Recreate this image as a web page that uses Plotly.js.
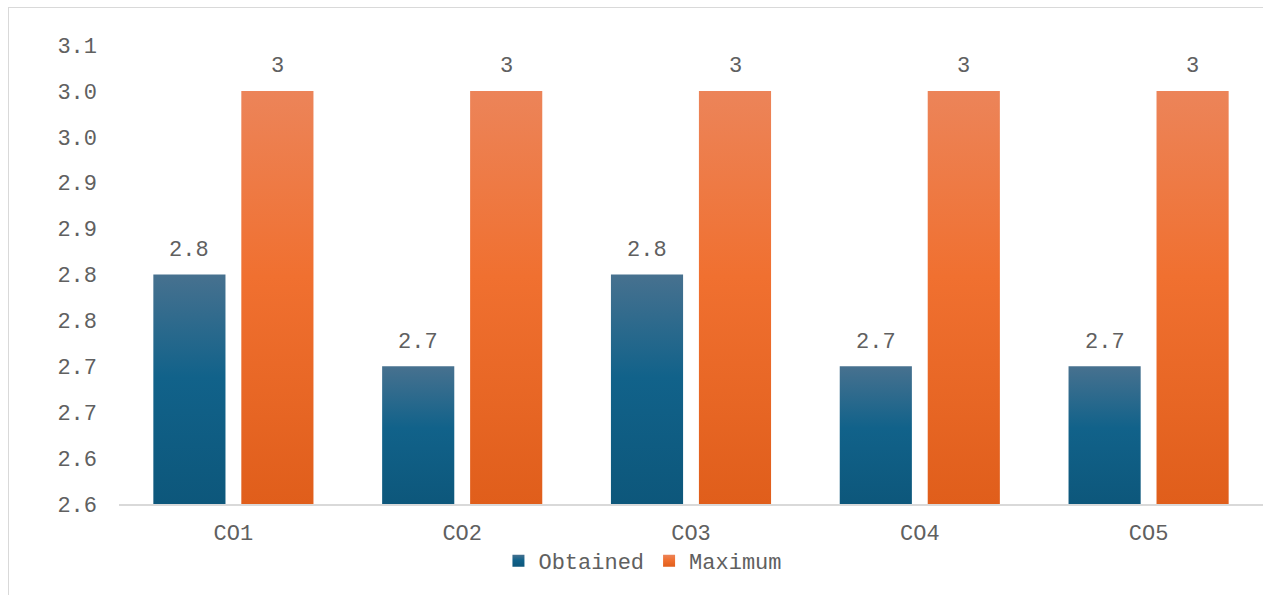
<!DOCTYPE html>
<html>
<head>
<meta charset="utf-8">
<script src="https://cdn.plot.ly/plotly-3.0.1.min.js"></script>
<style>
  html, body { margin: 0; padding: 0; background: #fff; overflow: hidden; }
  #chart { width: 1263px; height: 595px; }
  #frame { position: absolute; left: 8px; top: 7px; width: 1300px; height: 700px;
           border: 1px solid #d9d9d9; pointer-events: none; box-sizing: border-box; }
</style>
</head>
<body>
<div id="chart"></div>
<div id="frame"></div>
<script>
// ---- data ----
const categories = ["CO1", "CO2", "CO3", "CO4", "CO5"];
const obtained = [2.8, 2.7, 2.8, 2.7, 2.7];
const maximum = [3, 3, 3, 3, 3];
const yTickVals = [2.55, 2.60, 2.65, 2.70, 2.75, 2.80, 2.85, 2.90, 2.95, 3.00, 3.05];
const yTickText = ["2.6", "2.6", "2.7", "2.7", "2.8", "2.8", "2.9", "2.9", "3.0", "3.0", "3.1"];
const seriesNames = ["Obtained", "Maximum"];

const FONT = "Liberation Mono, Courier New, monospace";
const TXT = "#606060";

const traces = [
  { type: "bar", name: seriesNames[0], x: categories, y: obtained,
    marker: { color: "#175f86", line: { width: 0 } }, hoverinfo: "x+y" },
  { type: "bar", name: seriesNames[1], x: categories, y: maximum,
    marker: { color: "#ef6f2e", line: { width: 0 } }, hoverinfo: "x+y" }
];

const annotations = [];
categories.forEach((c, i) => {
  annotations.push({ x: c, y: obtained[i], xref: "x", yref: "y", text: String(obtained[i]),
    showarrow: false, xshift: -44, yshift: 24, yanchor: "middle",
    font: { family: FONT, size: 22, color: TXT } });
  annotations.push({ x: c, y: maximum[i], xref: "x", yref: "y", text: String(maximum[i]),
    showarrow: false, xshift: 44, yshift: 24, yanchor: "middle",
    font: { family: FONT, size: 22, color: TXT } });
});

const layout = {
  width: 1263, height: 595,
  margin: { l: 119, r: 0, t: 45, b: 91 },
  paper_bgcolor: "#ffffff", plot_bgcolor: "#ffffff",
  font: { family: FONT, size: 22, color: TXT },
  barmode: "group", bargap: 0.231, bargroupgap: 0.18,
  xaxis: { type: "category", showline: true, linecolor: "#d9d9d9", linewidth: 2,
    showgrid: false, zeroline: false, ticks: "", ticklabelstandoff: 8,
    tickfont: { family: FONT, size: 22, color: TXT } },
  yaxis: { range: [2.55, 3.05], tickvals: yTickVals, ticktext: yTickText,
    showgrid: false, zeroline: false, showline: false, ticks: "", ticklabelstandoff: 21,
    tickfont: { family: FONT, size: 22, color: TXT } },
  showlegend: true,
  legend: { orientation: "h", x: 0.458, xanchor: "center", y: -0.124, yanchor: "middle",
    font: { family: FONT, size: 22, color: TXT }, itemclick: false, itemdoubleclick: false },
  annotations: annotations
};

Plotly.newPlot("chart", traces, layout, { displayModeBar: false, staticPlot: true }).then(gd => {
  const svgNS = "http://www.w3.org/2000/svg";
  const svg = gd.querySelector("svg.main-svg");
  let defs = svg.querySelector("defs");
  if (!defs) { defs = document.createElementNS(svgNS, "defs"); svg.insertBefore(defs, svg.firstChild); }
  let n = 0;
  function grad(stops, y1, y2) {
    const id = "grad" + (n++);
    const g = document.createElementNS(svgNS, "linearGradient");
    g.setAttribute("id", id);
    g.setAttribute("gradientUnits", "userSpaceOnUse");
    g.setAttribute("x1", "0"); g.setAttribute("y1", String(y1));
    g.setAttribute("x2", "0"); g.setAttribute("y2", String(y2));
    stops.forEach(s => {
      const st = document.createElementNS(svgNS, "stop");
      st.setAttribute("offset", s[0]); st.setAttribute("stop-color", s[1]);
      g.appendChild(st);
    });
    defs.appendChild(g);
    return id;
  }
  const stopSets = [
    [["0", "#47718f"], ["0.45", "#11628a"], ["1", "#0d577b"]],
    [["0", "#ec8459"], ["0.45", "#f07030"], ["1", "#e05e1b"]]
  ];
  const plotH = gd._fullLayout._size.h;
  const groups = gd.querySelectorAll(".barlayer .trace");
  groups.forEach((g, i) => {
    g.querySelectorAll("path").forEach(p => {
      const bb = p.getBBox();
      if (!bb.height) return;
      const top = Math.max(0, bb.y);
      const bot = Math.min(plotH, bb.y + bb.height);
      const id = grad(stopSets[i], top, bot);
      p.style.fill = "url(#" + id + ")";
      p.style.stroke = "none";
    });
  });
  const legendTraces = gd.querySelectorAll(".legend .traces");
  legendTraces.forEach((t, i) => {
    t.querySelectorAll(".legendpoints path").forEach(p => {
      const bb = p.getBBox();
      const id = grad(stopSets[i], bb.y, bb.y + bb.height);
      p.style.fill = "url(#" + id + ")";
      p.style.stroke = "none";
    });
  });
});
</script>
</body>
</html>
